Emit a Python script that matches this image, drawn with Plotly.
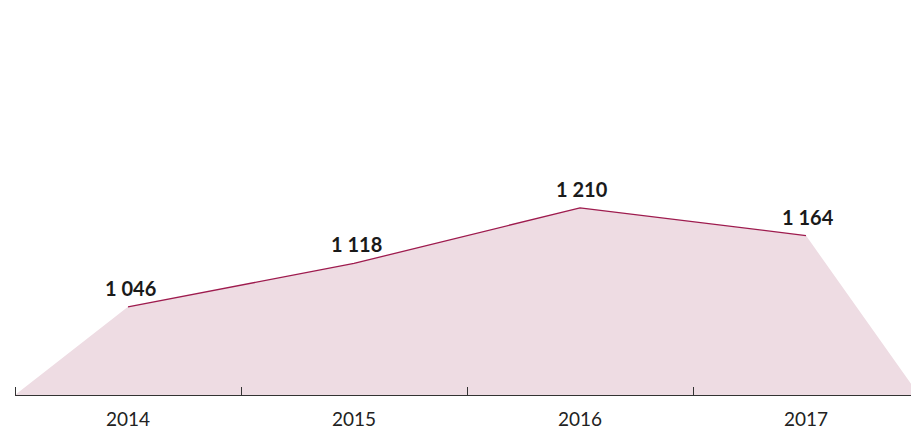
import plotly.graph_objects as go

years = ["2014", "2015", "2016", "2017"]
values = [1046, 1118, 1210, 1164]
labels = ["1 046", "1 118", "1 210", "1 164"]
y_base = 900

W, H = 911, 437
ml, mr, mt, mb = 15, 0, 0, 42
cat_px = 226
plot_w = W - ml - mr
plot_h = H - mt - mb
px_per_unit = 0.6037

pos = list(range(len(years)))
x_poly = [pos[0] - 0.5] + pos + [pos[-1] + 0.5]
y_poly = [y_base] + values + [y_base]

fig = go.Figure()
fig.add_trace(go.Scatter(
    x=x_poly, y=y_poly, fill="toself", mode="lines",
    line=dict(width=0, color="rgba(0,0,0,0)"),
    fillcolor="#EEDCE3", hoverinfo="skip", showlegend=False))
fig.add_trace(go.Scatter(
    x=pos, y=values, mode="lines",
    line=dict(color="#9E1B4E", width=1.3), showlegend=False))

for xi, v, t in zip(pos, values, labels):
    fig.add_annotation(x=xi, y=v, text="<b>" + t + "</b>", showarrow=False,
                       yanchor="bottom", xanchor="center", yshift=5, xshift=2,
                       font=dict(family="Lato", size=20, color="#1a1a1a"))

fig.update_layout(
    width=W, height=H,
    margin=dict(l=ml, r=mr, t=mt, b=mb),
    paper_bgcolor="white", plot_bgcolor="white",
    showlegend=False,
    xaxis=dict(
        range=[-0.5, -0.5 + plot_w / cat_px],
        tickmode="array", tickvals=pos, ticktext=years,
        ticks="", showgrid=False, zeroline=False, automargin=False,
        showline=True, linecolor="#333333", linewidth=1.2,
        tickfont=dict(family="Lato", size=19, color="#222222"),
        ticklabelstandoff=7,
        minor=dict(tickmode="array", tickvals=[p - 0.5 for p in pos] + [pos[-1] + 0.5],
                   ticks="inside", ticklen=8, tickcolor="#333333", tickwidth=1,
                   showgrid=False),
        fixedrange=True,
    ),
    yaxis=dict(
        range=[y_base, y_base + plot_h / px_per_unit],
        visible=False, showgrid=False, zeroline=False, fixedrange=True,
        automargin=False,
    ),
)

fig.write_html(
    "out.html",
    config={"displayModeBar": False},
    post_script="document.body.style.margin='0';document.body.style.overflow='hidden';",
)
